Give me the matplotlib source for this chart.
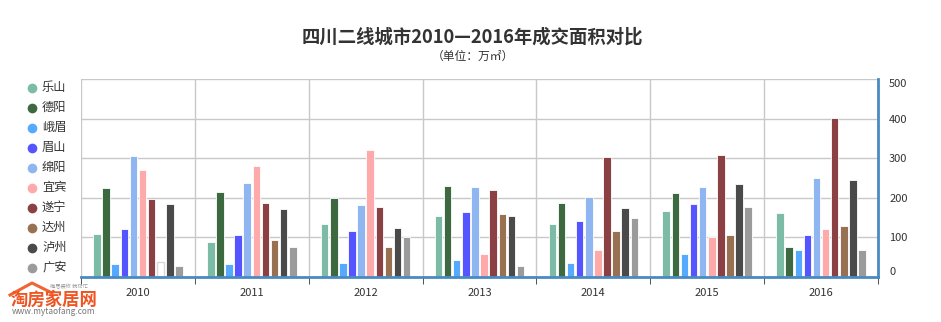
import matplotlib.pyplot as plt
import numpy as np
from matplotlib.lines import Line2D

plt.rcParams['font.family'] = ['Noto Sans CJK SC', 'DejaVu Sans']

years = ["2010", "2011", "2012", "2013", "2014", "2015", "2016"]
cities = ["乐山", "德阳", "峨眉", "眉山", "绵阳", "宜宾", "遂宁", "达州", "泸州", "广安"]
colors = ["#7cbba6", "#3d6940", "#55aaff", "#5555ff", "#8fb6f0",
          "#ffaaaa", "#8b4043", "#977152", "#4a4a4a", "#9b9b9b"]

# 万㎡, one list per city, 2010-2016
leshan  = [108, 88, 134, 154, 134, 166, 161]
deyang  = [226, 215, 200, 231, 188, 212, 77]
emei    = [32, 34, 35, 43, 36, 58, 68]
meishan = [120, 106, 116, 165, 141, 184, 106]
mianyang = [306, 237, 181, 227, 201, 227, 250]
yibin   = [270, 280, 321, 58, 67, 101, 120]
suining = [197, 187, 177, 220, 302, 307, 402]
dazhou  = [39, 93, 76, 159, 117, 106, 129]
luzhou  = [184, 172, 123, 155, 173, 235, 245]
guangan = [28, 77, 100, 29, 150, 176, 68]
series = [leshan, deyang, emei, meishan, mianyang, yibin, suining, dazhou, luzhou, guangan]

fig = plt.figure(figsize=(9.41, 3.22), dpi=100)
ax = fig.add_axes([81 / 941, 1 - 277 / 322, (878 - 81) / 941, (277 - 79) / 322])

x = np.arange(len(years))
pitch = 0.08
width = 0.066
for i, (name, vals, c) in enumerate(zip(cities, series, colors)):
    pos = x - 0.4 + pitch * i + pitch / 2
    bars = ax.bar(pos, vals, width=width, color=c, edgecolor="white", linewidth=0.6,
                  label=name, zorder=3)
    if name == "达州":
        # 2010 bar drawn hollow in the original
        bars[0].set_facecolor("white")
        bars[0].set_edgecolor("#d8d8d8")
        bars[0].set_linewidth(1.0)

ax.set_xlim(-0.5, len(years) - 0.5)
ax.set_ylim(0, 500)

# grid
ax.set_yticks([0, 100, 200, 300, 400, 500])
ax.yaxis.grid(True, color="#c8c8c8", lw=1, zorder=0)
ax.set_xticks(x)
ax.set_xticks(np.arange(-0.5, len(years)), minor=True)
ax.xaxis.grid(True, which="minor", color="#c8c8c8", lw=1, zorder=0)
ax.xaxis.grid(False, which="major")
ax.set_xticklabels(years, fontsize=8, color="#333333")
ax.tick_params(axis="x", which="major", length=0, pad=8)
ax.tick_params(axis="x", which="minor", length=5, color="#333333", direction="out")

ax.yaxis.tick_right()
ax.tick_params(axis="y", length=0, pad=8, labelsize=8, labelcolor="#333333")
for lab in ax.get_yticklabels():
    if lab.get_text() == "500":
        lab.set_va("top")
    elif lab.get_text() == "0":
        lab.set_va("bottom")

for s in ["top", "left"]:
    ax.spines[s].set_visible(False)
ax.spines["bottom"].set_color("#4a8ac2")
ax.spines["bottom"].set_linewidth(2)
ax.spines["right"].set_color("#4a8ac2")
ax.spines["right"].set_linewidth(2)
ax.spines["bottom"].set_zorder(4)

# titles
fig.text(472 / 941, 1 - 37 / 322, "四川二线城市2010—2016年成交面积对比", ha="center", va="center",
         fontsize=13.2, fontweight="bold", color="#333333")
fig.text(473 / 941, 1 - 56 / 322, "（单位：万㎡）", ha="center", va="center",
         fontsize=8.5, color="#333333")

# legend on the left
for i, (name, c) in enumerate(zip(cities, colors)):
    yy = 1 - (87.5 + i * 20) / 322
    fig.add_artist(Line2D([32 / 941], [yy], marker="o", markersize=7, color=c,
                          markeredgewidth=0, transform=fig.transFigure))
    fig.text(42 / 941, yy, name, ha="left", va="center", fontsize=8.8, color="#333333")

# watermark
roof_x = np.array([10, 32, 52]) / 941
roof_y = 1 - np.array([295, 283, 293]) / 322
fig.add_artist(Line2D(roof_x, roof_y, color="#ee6633", lw=2.2, transform=fig.transFigure))
fig.text(11 / 941, 1 - 300 / 322, "淘房家居网", ha="left", va="center", fontsize=12.5,
         fontweight="bold", color="#ee5522")
fig.text(50 / 941, 1 - 287 / 322, "梅居装修 我帮忙", ha="left", va="center", fontsize=3.8,
         color="#999999")
fig.text(12 / 941, 1 - 312 / 322, "www.mytaofang.com", ha="left", va="center", fontsize=6,
         color="#777777")

fig.savefig("out.png", dpi=100)
